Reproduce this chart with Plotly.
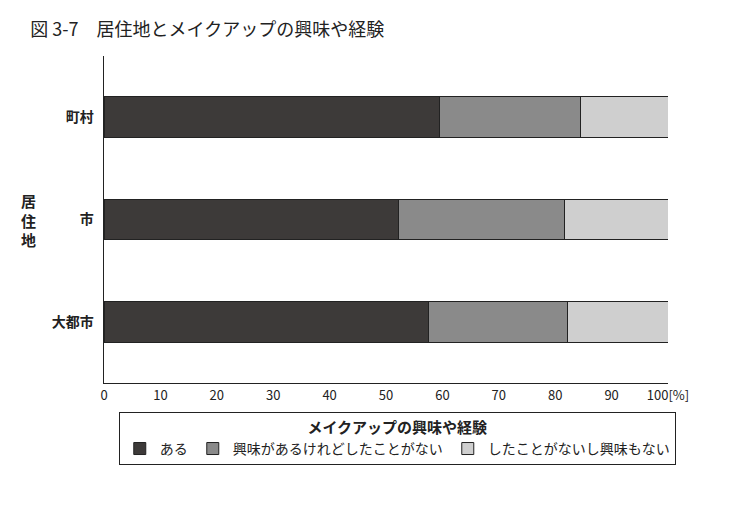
import plotly.graph_objects as go

# data
regions = ["大都市", "市", "町村"]
experienced = [57.6, 52.3, 59.4]
interested_only = [24.5, 29.4, 25.0]
not_interested = [17.9, 18.3, 15.6]
series_names = ["ある", "興味があるけれどしたことがない", "したことがないし興味もない"]
colors = ["#3d3a39", "#8a8a8a", "#cfcfcf"]
tick_vals = [0, 10, 20, 30, 40, 50, 60, 70, 80, 90, 100]
tick_text = ["0", "10", "20", "30", "40", "50", "60", "70", "80", "90", "100[%]"]

font = "Noto Sans CJK JP"

fig = go.Figure()
for name, vals, c in zip(series_names, [experienced, interested_only, not_interested], colors):
    fig.add_trace(go.Bar(
        y=regions, x=vals, name=name, orientation="h",
        marker=dict(color=c, line=dict(color="#222", width=1)),
        width=0.4,
    ))

fig.update_layout(
    barmode="stack",
    width=744, height=513,
    paper_bgcolor="white", plot_bgcolor="white",
    font=dict(family=font, size=13, color="#222"),
    margin=dict(l=96, r=84, t=48, b=138),
    title=dict(text="図 3-7　居住地とメイクアップの興味や経験", x=0.03, y=0.97,
               xanchor="left", font=dict(size=18, family=font)),
    xaxis=dict(range=[0, 100], tickvals=tick_vals, ticktext=tick_text,
               showline=True, linecolor="#222", linewidth=1, showgrid=False,
               ticks="", zeroline=False),
    yaxis=dict(showline=True, linecolor="#222", linewidth=1, showgrid=False,
               ticks="", range=[-0.6, 2.6], ticksuffix="  ",
               tickfont=dict(size=14, weight="bold")),
    legend=dict(orientation="h", x=0.52, xanchor="center", y=-0.09, yanchor="top",
                bordercolor="#222", borderwidth=1,
                title=dict(text="<b>メイクアップの興味や経験</b>", side="top center",
                           font=dict(size=15)),
                font=dict(size=14), traceorder="normal"),
    annotations=[dict(text="<b>居<br>住<br>地</b>", x=-0.15, y=0.5, xref="paper", yref="paper",
                      showarrow=False, font=dict(size=15), xanchor="left")],
)

fig.write_html("out.html")
